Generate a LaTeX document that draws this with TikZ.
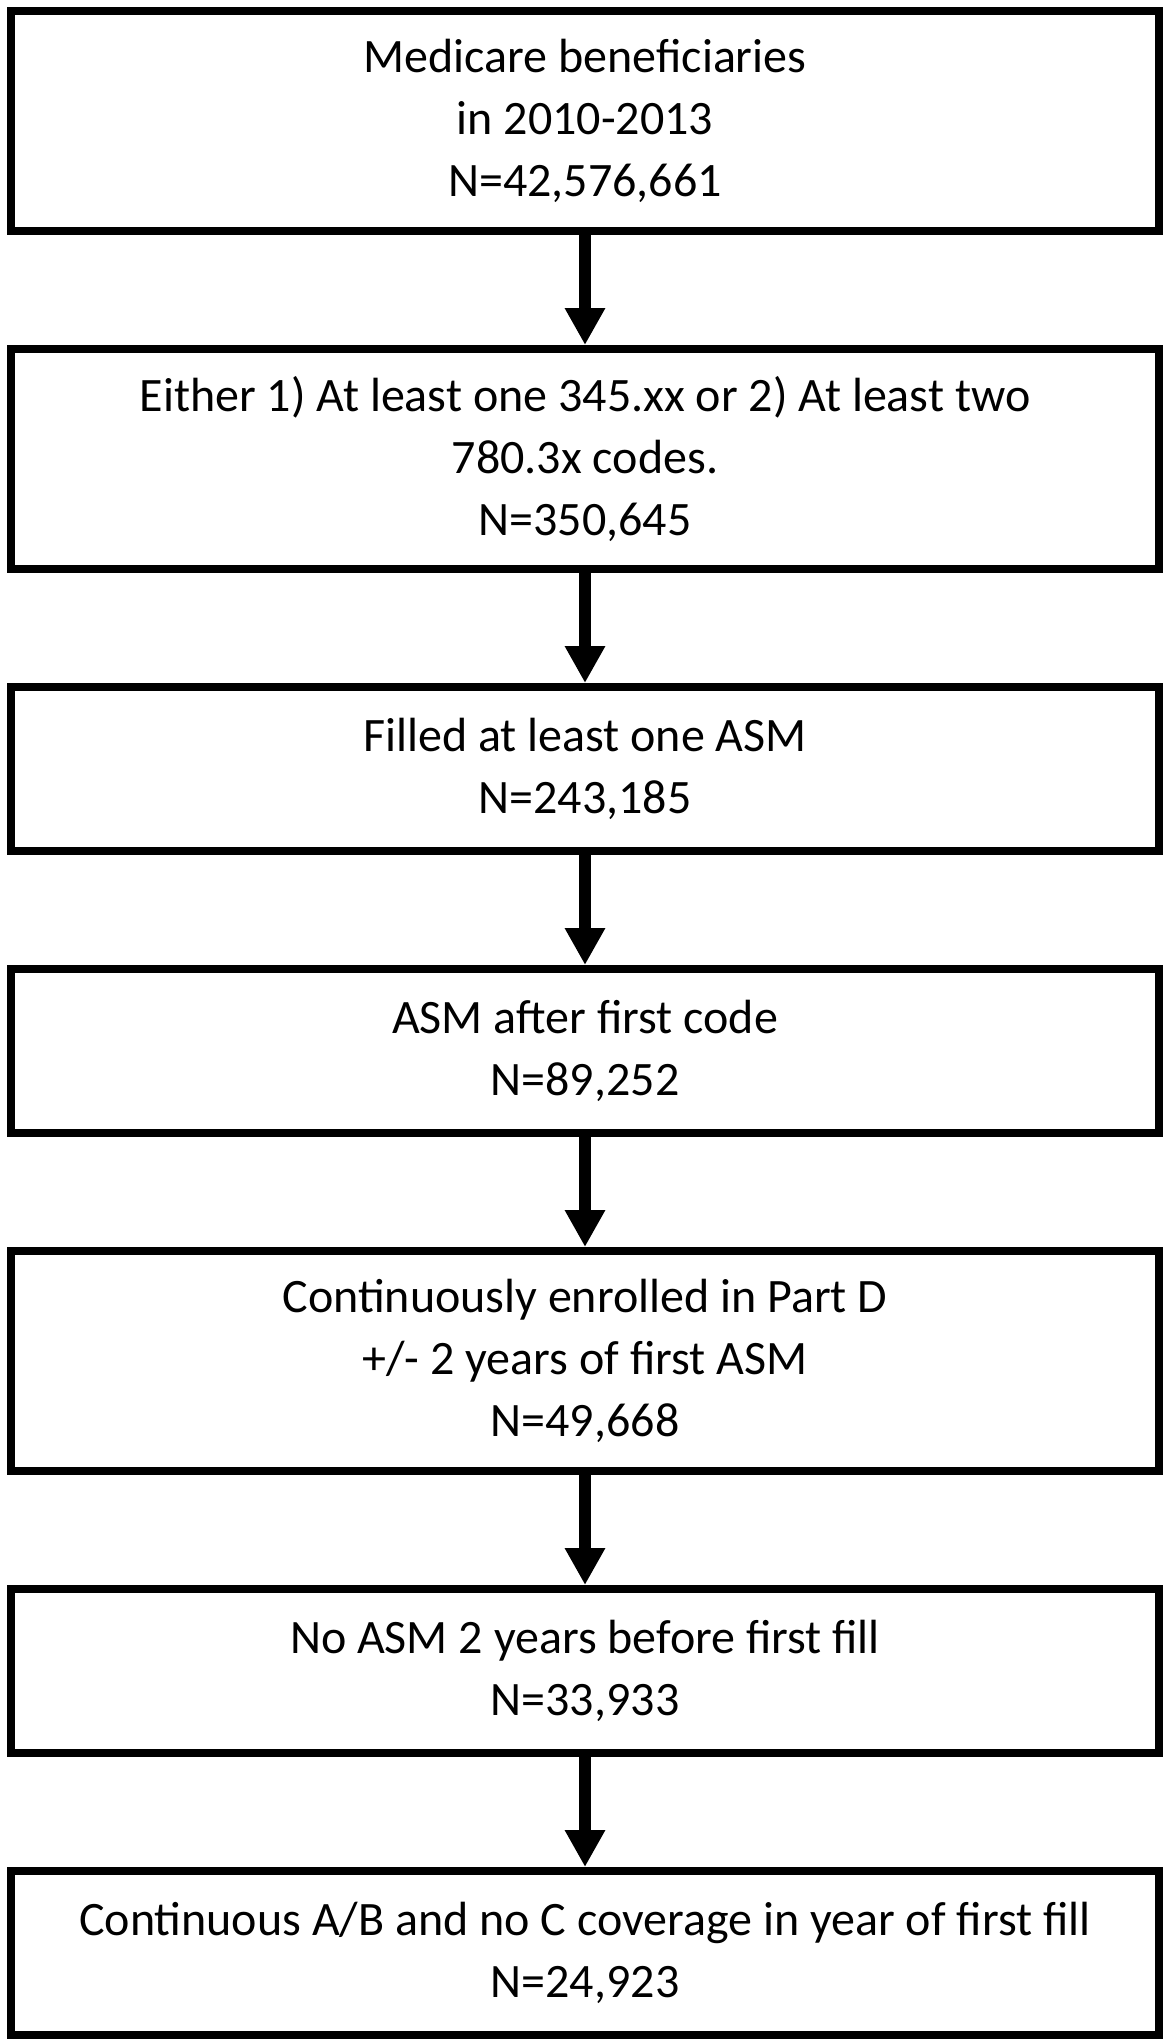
\documentclass[tikz,border=0pt]{standalone}
\usepackage{fontspec}
\setmainfont{Carlito}
\usetikzlibrary{positioning,arrows.meta}

\begin{document}
\begin{tikzpicture}[
    box/.style={draw, line width=4pt, minimum width=574pt, minimum height=82pt,
      inner sep=0pt, align=center, font=\fontsize{24pt}{31pt}\selectfont},
    tallbox/.style={box, minimum height=110pt},
    arr/.style={line width=6pt, -{Triangle[width=19pt,length=18.5pt]}},
    node distance=55pt
  ]
  \useasboundingbox (0,0) rectangle (585pt,-1020pt);
  % cohort steps
  \node[tallbox] (bene) at (292.5pt,-60.5pt) {Medicare beneficiaries\\in 2010-2013\\N=42,576,661};
  \node[tallbox, below=of bene] (codes) {Either 1) At least one 345.xx or 2) At least two\\780.3x codes.\\N=350,645};
  \node[box, below=of codes] (fill) {Filled at least one ASM\\N=243,185};
  \node[box, below=of fill] (after) {ASM after first code\\N=89,252};
  \node[tallbox, below=of after] (enrol) {Continuously enrolled in Part D\\+/- 2 years of first ASM\\N=49,668};
  \node[box, below=of enrol] (noasm) {No ASM 2 years before first fill\\N=33,933};
  \node[box, below=of noasm] (cover) {Continuous A/B and no C coverage in year of first fill\\N=24,923};
  % arrows
  \draw[arr] (bene) -- (codes);
  \draw[arr] (codes) -- (fill);
  \draw[arr] (fill) -- (after);
  \draw[arr] (after) -- (enrol);
  \draw[arr] (enrol) -- (noasm);
  \draw[arr] (noasm) -- (cover);
\end{tikzpicture}
\end{document}
